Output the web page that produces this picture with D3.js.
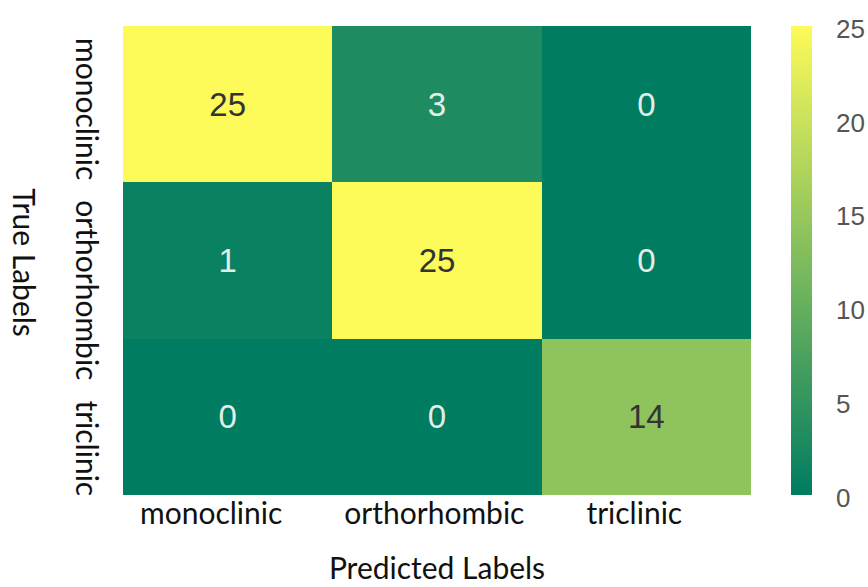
<!DOCTYPE html>
<html>
<head>
<meta charset="utf-8">
<script src="https://cdn.jsdelivr.net/npm/d3@7"></script>
<style>
  html, body { margin: 0; padding: 0; background: #ffffff; }
  svg { display: block; }
</style>
</head>
<body>
<svg id="chart" width="868" height="587"></svg>
<script>
// Confusion matrix: rows are true classes, columns are predicted classes
const classes = ["monoclinic", "orthorhombic", "triclinic"];
const counts = [
  [25, 3, 0],
  [1, 25, 0],
  [0, 0, 14]
];
const colorTicks = [0, 5, 10, 15, 20, 25];
const xTitle = "Predicted Labels";
const yTitle = "True Labels";

const svg = d3.select("#chart");
const m = { left: 123, top: 26, right: 751, bottom: 495 };

const x = d3.scaleBand().domain(classes).range([m.left, m.right]);
const y = d3.scaleBand().domain(classes).range([m.top, m.bottom]);

// green-to-yellow ramp (summer style)
const vmax = d3.max(counts.flat());
const color = d3.scaleLinear()
  .domain([0, vmax])
  .range(["#007c61", "#fdfb59"])
  .interpolate(d3.interpolateRgb);

const cells = [];
counts.forEach((row, i) => row.forEach((v, j) => cells.push({ t: classes[i], p: classes[j], v })));

const g = svg.append("g");
g.selectAll("rect.cell")
  .data(cells)
  .join("rect")
  .attr("class", "cell")
  .attr("x", d => x(d.p))
  .attr("y", d => y(d.t))
  .attr("width", x.bandwidth())
  .attr("height", y.bandwidth())
  .attr("fill", d => color(d.v))
  .attr("shape-rendering", "crispEdges");

g.selectAll("text.val")
  .data(cells)
  .join("text")
  .attr("class", "val")
  .attr("x", d => x(d.p) + x.bandwidth() / 2)
  .attr("y", d => y(d.t) + y.bandwidth() / 2)
  .attr("text-anchor", "middle")
  .attr("dominant-baseline", "central")
  .attr("font-family", "'Liberation Sans', Arial, sans-serif")
  .attr("font-size", 33)
  .attr("fill", d => d.v > vmax / 2 ? "#333333" : "#e2efe9")
  .text(d => d.v);

// Category labels are set as one running line of text with a fixed gap
// between the words, starting near the first cell.
const labelFont = "Lato, 'Noto Sans', sans-serif";
const labelSize = 30;

function runLabels(group, start, gap, place) {
  const texts = group.selectAll("text")
    .data(classes)
    .join("text")
    .attr("text-anchor", "start")
    .attr("font-family", labelFont)
    .attr("font-size", labelSize)
    .attr("fill", "#111")
    .text(d => d);
  let pos = start;
  texts.each(function () {
    place(d3.select(this), pos);
    pos += this.getComputedTextLength() + gap;
  });
}

// bottom labels
runLabels(svg.append("g"), m.left + 17, 62, (t, p) => t.attr("x", p).attr("y", 524));

// left labels, reading top to bottom
runLabels(svg.append("g"), m.top + 12, 20,
  (t, p) => t.attr("transform", `translate(76,${p}) rotate(90)`));

// axis titles
svg.append("text")
  .attr("x", (m.left + m.right) / 2)
  .attr("y", 579)
  .attr("text-anchor", "middle")
  .attr("font-family", labelFont)
  .attr("font-size", 30)
  .attr("fill", "#111")
  .text(xTitle);

svg.append("text")
  .attr("transform", `translate(13,${(m.top + m.bottom) / 2 + 2}) rotate(90)`)
  .attr("text-anchor", "middle")
  .attr("font-family", labelFont)
  .attr("font-size", 30)
  .attr("fill", "#111")
  .text(yTitle);

// colour bar
const cb = { x: 791, w: 21 };
const cy = d3.scaleLinear().domain([0, vmax]).range([m.bottom, m.top]);
const defs = svg.append("defs");
const grad = defs.append("linearGradient")
  .attr("id", "cbgrad")
  .attr("x1", 0).attr("y1", 1).attr("x2", 0).attr("y2", 0);
d3.range(0, 1.0001, 0.1).forEach(t => {
  grad.append("stop").attr("offset", t).attr("stop-color", color(t * vmax));
});
svg.append("rect")
  .attr("x", cb.x)
  .attr("y", cy(vmax))
  .attr("width", cb.w)
  .attr("height", cy(0) - cy(vmax))
  .attr("fill", "url(#cbgrad)");

const cbAxis = svg.append("g")
  .attr("transform", `translate(${cb.x + cb.w},3)`)
  .call(d3.axisRight(cy).tickValues(colorTicks).tickSize(0).tickPadding(24));
cbAxis.select(".domain").remove();
cbAxis.selectAll("text")
  .attr("font-family", "'Liberation Sans', Arial, sans-serif")
  .attr("font-size", 26)
  .attr("fill", "#555");
</script>
</body>
</html>
